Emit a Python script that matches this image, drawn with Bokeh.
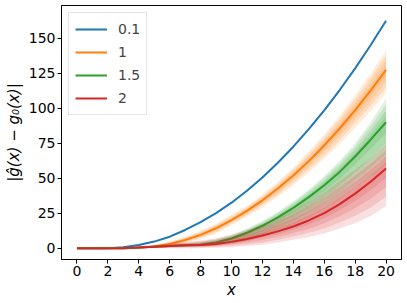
from bokeh.plotting import figure
from bokeh.models import Range1d, FixedTicker, Legend, LegendItem
from bokeh.embed import file_html
from bokeh.resources import INLINE

# ---- data ----
x = [0, 1, 2, 3, 4, 5, 6, 7, 8, 9, 10, 11, 12, 13, 14, 15, 16, 17, 18, 19, 20]

blue   = [0, 0, 0, 0.6, 2.2, 4.7, 8.2, 13, 18.6, 25, 32.5, 41, 50.5, 61, 72.5, 85, 98.5, 113, 128.5, 145, 162.5]

orange    = [0, 0, 0, 0, 0.3, 1.2, 3, 5.8, 9.5, 14.2, 20.1, 26.7, 34.2, 42.6, 52, 62.2, 73.4, 85.5, 98.6, 112.5, 127.4]
orange_hi = [0, 0, 0, 0, 0.6, 2.2, 4.8, 8.2, 12.5, 17.5, 23.8, 30.3, 38.3, 47.4, 57.7, 69, 81.3, 94.7, 109.3, 124.8, 141.5]
orange_lo = [0, 0, 0, 0, 0.1, 0.6, 1.8, 3.8, 6.5, 10.5, 16.5, 22.5, 29.2, 36.7, 45, 54.1, 63.9, 74.4, 85.8, 97.9, 110.8]

green    = [0, 0, 0, 0, 0.5, 1.0, 1.5, 2, 2.5, 4, 6.9, 11, 16, 22, 28.8, 36.5, 45, 54.5, 65.5, 77.5, 90]
green_hi = [0, 0, 0, 0, 0.8, 1.8, 2.5, 3.5, 4.5, 6.5, 9.5, 14, 19.5, 26, 33.5, 42, 51.5, 62.5, 75, 90, 107]
green_lo = [0, 0, 0, 0, 0.2, 0.4, 0.6, 0.8, 1, 1.5, 3, 5, 8, 12, 16.5, 22, 28, 35, 43, 51, 60]

red    = [0, 0, 0, 0, 0.5, 1, 1.5, 2, 2.3, 3, 4.5, 6.5, 9, 12, 15.5, 19.8, 25, 31.5, 39, 47.5, 57]
red_hi = [0, 0, 0, 0, 1.2, 2.2, 3.5, 4.5, 5.5, 7, 9.5, 13, 17, 21.5, 27, 33, 40, 48, 56, 64.5, 74]
red_lo = [0, 0, 0, 0, 0, 0, 0, 0, 0, 0.3, 0.8, 1.5, 2.5, 4, 6, 8, 10.5, 14, 18, 23, 30]

labels = ["0.1", "1", "1.5", "2"]
colors = ["#1f77b4", "#ff7f0e", "#2ca02c", "#d62728"]
x_ticks = list(range(0, 21, 2))
y_ticks = [0, 25, 50, 75, 100, 125, 150]

band_levels = [1.0, 0.75, 0.5, 0.25]

p = figure(width=407, height=303, x_range=Range1d(-1, 21), y_range=Range1d(-8.1, 173.4),
           output_backend="svg", toolbar_location=None,
           min_border_left=61, min_border_right=6, min_border_top=5, min_border_bottom=44)

p.xgrid.visible = False
p.ygrid.visible = False
p.outline_line_color = "black"
p.outline_line_width = 1
p.background_fill_color = "white"
p.border_fill_color = "white"

items = []
r = p.line(x, blue, line_color=colors[0], line_width=2)
items.append(LegendItem(label=labels[0], renderers=[r]))

series = [(orange, orange_lo, orange_hi), (green, green_lo, green_hi), (red, red_lo, red_hi)]
for i, (c, lo, hi) in enumerate(series):
    col = colors[i + 1]
    for f in band_levels:
        lo_f = [ci - f * (ci - li) for ci, li in zip(c, lo)]
        hi_f = [ci + f * (hi_i - ci) for ci, hi_i in zip(c, hi)]
        p.varea(x=x, y1=lo_f, y2=hi_f, fill_color=col, fill_alpha=0.15)
    r = p.line(x, c, line_color=col, line_width=2)
    items.append(LegendItem(label=labels[i + 1], renderers=[r]))

legend = Legend(items=items, location="top_left")
legend.label_text_font = "DejaVu Sans"
legend.label_text_font_size = "14px"
legend.glyph_width = 32
legend.glyph_height = 20
legend.spacing = 3
legend.label_standoff = 11
legend.padding = 6
legend.margin = 7
legend.border_line_color = "#cccccc"
legend.border_line_width = 1
legend.background_fill_alpha = 0.8
p.add_layout(legend)

for ax in (p.xaxis[0], p.yaxis[0]):
    ax.major_label_text_font = "DejaVu Sans"
    ax.major_label_text_font_size = "14px"
    ax.major_label_text_color = "black"
    ax.axis_label_text_font = "DejaVu Sans"
    ax.axis_label_text_font_size = "15px"
    ax.axis_label_text_font_style = "italic"
    ax.axis_label_text_color = "black"
    ax.minor_tick_line_color = None
    ax.major_tick_in = 0
    ax.major_tick_out = 4
    ax.major_tick_line_color = "black"
    ax.axis_line_color = "black"

p.xaxis[0].ticker = FixedTicker(ticks=x_ticks)
p.yaxis[0].ticker = FixedTicker(ticks=y_ticks)
p.xaxis[0].axis_label = "x"
p.yaxis[0].axis_label = "|ĝ(x) − g₀(x)|"
p.xaxis[0].major_label_standoff = 2
p.xaxis[0].axis_label_standoff = 2
p.yaxis[0].major_label_standoff = 2
p.yaxis[0].axis_label_standoff = 3

open("out.html", "w").write(file_html(p, INLINE))
